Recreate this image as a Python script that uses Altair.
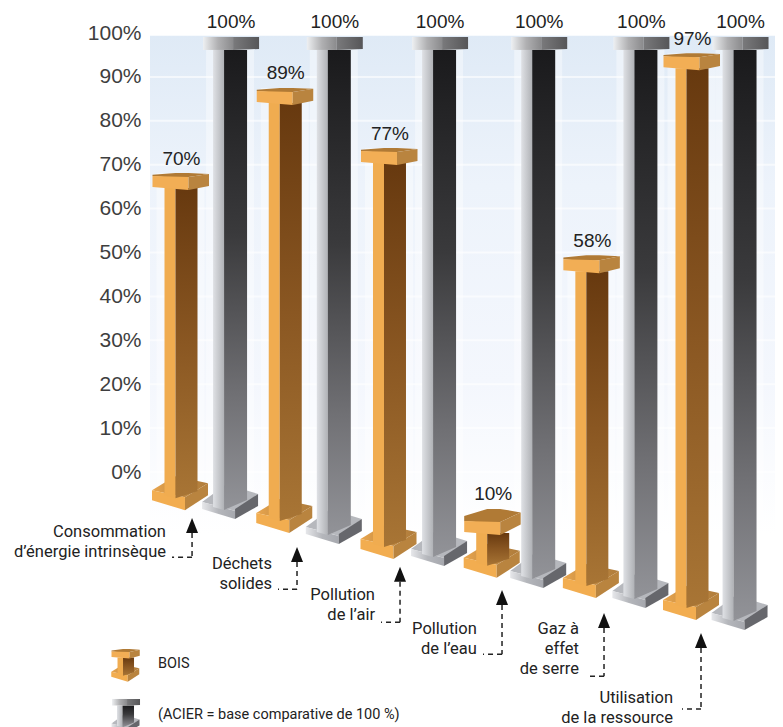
import altair as alt
import pandas as pd

# ---- values ----
categories = [["Consommation", "d’énergie intrinsèque"], ["Déchets", "solides"],
              ["Pollution", "de l’air"], ["Pollution", "de l’eau"],
              ["Gaz à", "effet", "de serre"], ["Utilisation", "de la ressource"]]
bois_labels = [70, 89, 77, 10, 58, 97]
acier_labels = [100, 100, 100, 100, 100, 100]
# drawn tops / feet of the columns as they read on the percent axis (perspective drop)
bois_top = [68.1, 87.5, 73.8, -8.4, 49.4, 95.4]
bois_foot = [-8.7, -13.9, -19.8, -24.1, -28.7, -33.7]
acier_top = [99.1] * 6
acier_foot = [-10.7, -16.4, -21.4, -26.4, -31.0, -36.0]
bois_slot = [0, 1.02, 2.04, 3.05, 4.02, 5.0]
acier_slot = [0.485, 1.5, 2.53, 3.5, 4.5, 5.47]
cap_open = [3, 3, 3, 12, 4, 3]
axis_ticks = list(range(0, 101, 10))
arrow_slot = [0.113, 1.14, 2.148, 3.146, 4.144, 5.093]
arrow_tip = [-10.5, -17.1, -21.6, -26.9, -32.1, -36.7]
arrow_elbow = [-19.4, -26.7, -34.2, -41.5, -46.5, -54.0]
arrow_end = [-0.083, 0.954, 1.962, 2.96, 3.977, 4.907]
label_right = [-0.142, 0.895, 1.903, 2.90, 3.899, 4.819]
label_first = [-13.7, -21.0, -28.0, -35.8, -35.8, -51.5]
legend_names = ["BOIS", "(ACIER = base comparative de 100 %)"]

W, H = 767, 719
PX, PY = 102.2, 4.39
ORG_X, ORG_Y = 172.5, 464.0
x_scale = alt.Scale(domain=[-ORG_X / PX, (W - ORG_X) / PX], range=[0, W], nice=False, zero=False)
y_scale = alt.Scale(domain=[(ORG_Y - H) / PY, ORG_Y / PY], range=[H, 0], nice=False, zero=False)
NARROW = "Roboto"


def grad(stops, vertical=True):
    n = len(stops) - 1
    st = [{"offset": (s[0] if isinstance(s, tuple) else i / n),
           "color": (s[1] if isinstance(s, tuple) else s)} for i, s in enumerate(stops)]
    return {"gradient": "linear", "x1": 0, "x2": 0 if vertical else 1, "y1": 0,
            "y2": 1 if vertical else 0, "stops": st}


faces = {}


def poly(face, cx, anchor, pts, s=1.0):
    rows = faces.setdefault(face, [])
    pid = len(rows)
    for (dx, a, b) in pts:
        rows.append({"id": f"{pid}", "x": cx + s * dx / PX,
                     "y": anchor - s * a / PY, "y2": anchor - s * b / PY})


def slab(face, cx, left, right, y_left, y_right):
    # a vertical face between two x offsets, given as (top, bottom) on the percent axis
    rows = faces.setdefault(face, [])
    pid = len(rows)
    rows.append({"id": f"{pid}", "x": cx + left, "y": y_left[0], "y2": y_left[1]})
    rows.append({"id": f"{pid}", "x": cx + right, "y": y_right[0], "y2": y_right[1]})


def bois(cx, top, foot, opened=3, s=1.0):
    u = s / PX
    v = s / PY
    poly("b_foot_top", cx, foot, [(-28.5, -20, -20), (-5.5, -34, -15), (4.5, -32, -13), (27.5, -27, -27)], s)
    poly("b_foot_front", cx, foot, [(-28.5, -20, -10), (4.5, -13, 0)], s)
    poly("b_foot_side", cx, foot, [(4.5, -13, 0), (27.5, -27, -15)], s)
    o = opened
    t = top - (o + 12) * v
    slab("b_shaft_l", cx, -16 * u, -5 * u, (t, foot + 15 * v), (t, foot + 12 * v))
    slab("b_shaft_r", cx, -5 * u, 17 * u, (t, foot + 12 * v), (t, foot + 19 * v))
    poly("b_cap_top", cx, top, [(-28, o * 0.6, o), (-5, 0, o + 2), (8, 0, o + 1), (28.5, o * 0.3, o * 0.3)], s)
    poly("b_cap_front", cx, top, [(-28, o, o + 11), (8, o + 1, o + 14)], s)
    poly("b_cap_side", cx, top, [(8, o + 1, o + 14), (28.5, o * 0.3, o * 0.3 + 12)], s)


def acier(cx, top, foot, s=1.0):
    u = s / PX
    v = s / PY
    poly("a_foot_top", cx, foot, [(-28, -17, -17), (-5, -34, -11), (5, -32, -8), (28, -25, -25)], s)
    poly("a_foot_front", cx, foot, [(-28, -17, -10), (5, -8, 0)], s)
    poly("a_foot_side", cx, foot, [(5, -10, 0), (28, -25, -13)], s)
    t = top - 13 * v
    slab("a_shaft_l", cx, -17 * u, -6 * u, (t, foot + 12 * v), (t, foot + 9 * v))
    slab("a_shaft_r", cx, -6 * u, 17 * u, (t, foot + 9 * v), (t, foot + 19 * v))
    poly("a_cap_front", cx, top, [(-27, 0, 13), (3, 0, 13)], s)
    poly("a_cap_side", cx, top, [(3, 0, 13), (29, 0, 12)], s)


for i in range(6):
    acier(acier_slot[i], acier_top[i], acier_foot[i])
    bois(bois_slot[i], bois_top[i], bois_foot[i], cap_open[i])
bois(-0.538, -40.3, -47.8, 5, 0.5)
acier(-0.538, -51.7, -59.2, 0.5)

styles = {
    "a_foot_top": "#b6b8bd",
    "a_foot_front": grad(["#e6e7ea", "#b4b6bb", "#a6a8ae"], vertical=False),
    "a_foot_side": "#66676c",
    "a_shaft_l": grad(["#dfe1e5", "#b0b2b6"], vertical=False),
    "a_shaft_r": grad([(0, "#1a1a1c"), (0.4, "#3a3a3c"), (0.75, "#707074"), (1, "#929398")]),
    "a_cap_front": grad(["#eef0f2", "#b0b0b2", "#8a8a8c"], vertical=False),
    "a_cap_side": grad(["#7a7a7c", "#565658"], vertical=False),
    "b_foot_top": grad(["#eaa64e", "#c08a44", "#b07c3a"], vertical=False),
    "b_foot_front": "#f2ad50",
    "b_foot_side": "#b9843f",
    "b_shaft_l": "#f0ac50",
    "b_shaft_r": grad(["#67390f", "#8a5722", "#a87535"]),
    "b_cap_top": "#b07a35",
    "b_cap_front": "#f2ae55",
    "b_cap_side": "#b9843f",
}

# ---- background wall ----
wall = pd.DataFrame({"id": ["w", "w"],
                     "x": [(150 - 8 - ORG_X) / PX, (W - ORG_X) / PX],
                     "y": [99.4, 99.4], "y2": [-14, -14]})
x_enc = alt.X("x:Q", scale=x_scale, axis=None)
y_enc = alt.Y("y:Q", scale=y_scale, title=None,
              axis=alt.Axis(orient="left", values=axis_ticks, labelExpr="datum.value + '%'",
                            domain=False, ticks=False, grid=False, labelPadding=0, offset=-133,
                            labelFont="Liberation Sans", labelFontSize=21, labelColor="#3e3e3e",
                            labelAlign="right", labelBaseline="middle"))

base_wall = alt.Chart(wall).mark_area(
    orient="vertical",
    color=grad([(0, "#dfeaf6"), (0.3, "#edf3fb"), (0.7, "#f4f7fd"), (1, "#ffffff")])
).encode(x=x_enc, y=y_enc, y2="y2:Q", detail="id:N")

grid_df = pd.DataFrame({"y": axis_ticks, "x": (150 - 8 - ORG_X) / PX, "x2": (W - ORG_X) / PX})
grid = alt.Chart(grid_df).mark_rule(color="#ffffff", strokeWidth=2, opacity=0.6).encode(
    x=x_enc, x2="x2:Q", y=y_enc)

halo_rows = []
for i in range(6):
    for s_, t_, f_, k_ in ((bois_slot[i], bois_top[i], bois_foot[i], "b"),
                           (acier_slot[i], acier_top[i], acier_foot[i], "a")):
        halo_rows.append({"id": f"{k_}{i}", "x": s_ - 24 / PX, "y": t_, "y2": f_ + 10 / PY})
        halo_rows.append({"id": f"{k_}{i}", "x": s_ + 24 / PX, "y": t_, "y2": f_ + 10 / PY})
halo = alt.Chart(pd.DataFrame(halo_rows)).mark_area(orient="vertical", color="#ffffff", opacity=0.4).encode(
    x=x_enc, y=y_enc, y2="y2:Q", detail="id:N")

layers = [base_wall, grid, halo]
order = ["a_foot_top", "a_foot_front", "a_foot_side", "a_shaft_l", "a_shaft_r", "a_cap_front", "a_cap_side",
         "b_foot_top", "b_foot_front", "b_foot_side", "b_shaft_l", "b_shaft_r", "b_cap_top", "b_cap_front", "b_cap_side"]
for f in order:
    layers.append(alt.Chart(pd.DataFrame(faces[f])).mark_area(orient="vertical", color=styles[f]).encode(
        x=x_enc, y=y_enc, y2="y2:Q", detail="id:N"))

# ---- value labels ----
val_df = pd.DataFrame(
    [{"x": bois_slot[i] + 1 / PX, "y": bois_top[i] + 14.5 / PY, "t": f"{bois_labels[i]}%"} for i in range(6)] +
    [{"x": acier_slot[i] + 1 / PX, "y": acier_top[i] + 14.5 / PY, "t": f"{acier_labels[i]}%"} for i in range(6)])
layers.append(alt.Chart(val_df).mark_text(font="Liberation Sans", fontSize=19, color="#222222",
                                          align="center", baseline="middle").encode(
    x=x_enc, y=y_enc, text="t:N"))

# ---- pointers and category labels ----
head_h = 15 / PY
v_df = pd.DataFrame({"x": arrow_slot, "y": [t - head_h for t in arrow_tip], "y2": arrow_elbow})
h_df = pd.DataFrame({"x": arrow_slot, "x2": arrow_end, "y": arrow_elbow})
p_df = pd.DataFrame({"x": arrow_slot, "y": [t - head_h / 2 for t in arrow_tip]})
layers.append(alt.Chart(v_df).mark_rule(color="#222222", strokeWidth=1.5, strokeDash=[5, 4]).encode(
    x=x_enc, y=y_enc, y2="y2:Q"))
layers.append(alt.Chart(h_df).mark_rule(color="#222222", strokeWidth=1.5, strokeDash=[5, 4]).encode(
    x=x_enc, x2="x2:Q", y=y_enc))
layers.append(alt.Chart(p_df).mark_point(shape="M0,-1L-0.8,1L0.8,1Z", size=225, filled=True, opacity=1,
                                         color="#111111").encode(x=x_enc, y=y_enc))
cat_rows = []
for i, lines in enumerate(categories):
    for j, line in enumerate(lines):
        cat_rows.append({"x": label_right[i], "y": label_first[i] - j * 20 / PY, "t": line})
layers.append(alt.Chart(pd.DataFrame(cat_rows)).mark_text(font=NARROW, fontSize=16.5, color="#222222",
                                                          align="right", baseline="middle").encode(
    x=x_enc, y=y_enc, text="t:N"))

leg_df = pd.DataFrame({"x": [(158 - 180.5) / PX] * 2, "y": [-43.7, -55.3], "t": legend_names})
layers.append(alt.Chart(leg_df).mark_text(font=NARROW, fontSize=14.5, color="#222222",
                                          align="left", baseline="middle").encode(
    x=x_enc, y=y_enc, text="t:N"))

chart = alt.layer(*layers).properties(
    width=W, height=H, padding=0, autosize=alt.AutoSizeParams(type="none")
).configure_view(stroke=None)

chart.save("out.html", embed_options={"renderer": "svg", "actions": False})
